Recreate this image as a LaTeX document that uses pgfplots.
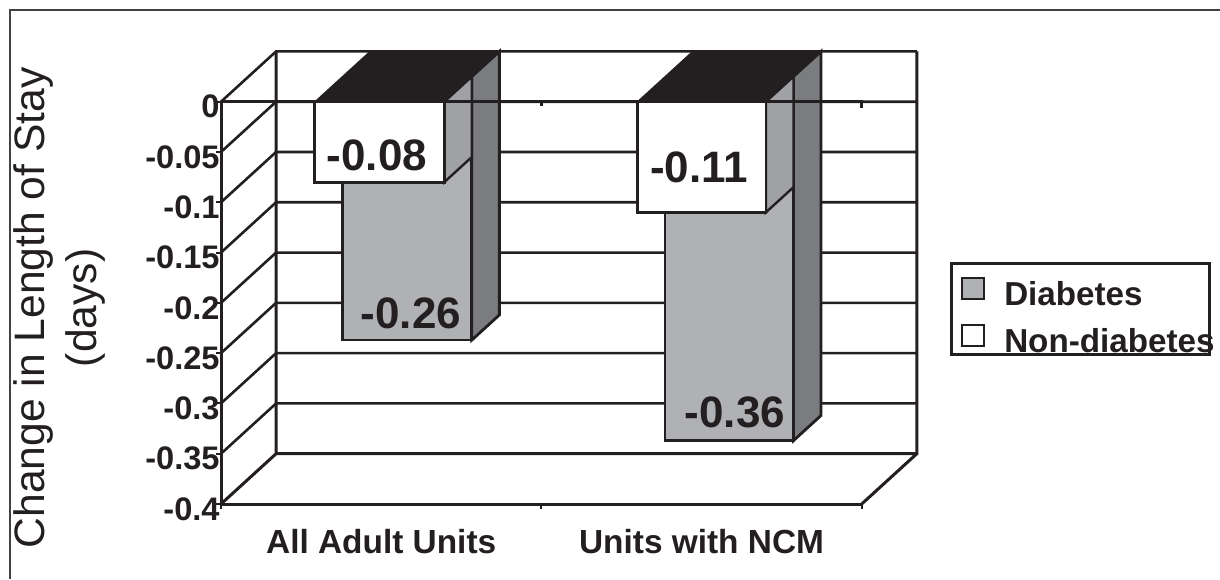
\documentclass[border=0pt]{standalone}
\usepackage{fontspec}
\setmainfont{Liberation Sans}
\usepackage{pgfplots}
\pgfplotsset{compat=1.18}
\definecolor{ink}{HTML}{231F20}
\definecolor{barface}{HTML}{B0B1B5}
\definecolor{sidelight}{HTML}{A0A1A5}
\definecolor{sidedark}{HTML}{7B7C80}

\begin{document}
\begin{tikzpicture}
% page is 1220x579 px at 2 px/pt
\useasboundingbox (0,0) rectangle (610pt,289.5pt);
\begin{axis}[
    at={(110.5pt,37.5pt)}, anchor=south west,
    scale only axis, width=320.35pt, height=201.15pt,
    xmin=0, xmax=2, ymin=-0.4, ymax=0,
    clip=false,
    unbounded coords=jump,
    axis x line*=bottom, axis y line*=left,
    axis line style={ink, line width=1.5pt},
    tick align=outside,
    tick style={ink, line width=1pt},
    major tick length=2.5pt, minor tick length=2.5pt,
    xtick={0.5,1.5},
    xticklabels={All Adult Units,Units with NCM},
    major x tick style={draw=none},
    minor xtick={0,1,2},
    ytick={-0.4,-0.35,-0.3,-0.25,-0.2,-0.15,-0.1,-0.05,0},
    yticklabels={-0.4,-0.35,-0.3,-0.25,-0.2,-0.15,-0.1,-0.05,0},
    xticklabel style={font=\fontsize{16.7}{18}\selectfont\bfseries, text=ink, inner sep=0pt,
        text height=12pt, text depth=0pt, anchor=north, yshift=-10pt},
    yticklabel style={font=\fontsize{16.3}{18}\selectfont\bfseries, text=ink, inner sep=0pt,
        anchor=east, xshift=2pt, yshift=-2.5pt},
    ylabel={Change in Length of Stay\\(days)},
    ylabel style={at={(axis cs:-0.504,-0.205)}, anchor=center, rotate=0, align=center,
        font=\fontsize{21.3}{26}\selectfont, text=ink},
    legend style={at={(axis cs:2.2755,-0.1593)}, anchor=north west, draw=ink, line width=1.5pt,
        fill=white, inner xsep=4.8pt, inner ysep=1.35pt, row sep=4pt, column sep=9.5pt,
        cells={anchor=base west},
        nodes={font=\fontsize{16.6}{18}\selectfont\bfseries, text=ink, inner sep=0pt,
            text height=19.5pt, text depth=0pt}},
    legend cell align=left,
    legend image code/.code={\draw[#1, line width=1.1pt] (0pt,-6.5pt) rectangle (11pt,4pt);},
]

% outer frame, left and top only
\addplot[forget plot, ink!85, line width=1pt] coordinates {(-0.66,-0.4745) (-0.66,0.0912) (3.12,0.0912)};

% back wall gridlines with their diagonals on the side wall
\addplot[forget plot, ink, line width=1.3pt] coordinates {
    (0,0) (0.172,0.05) (2.172,0.05) (0,nan)
    (0,-0.05) (0.172,0) (2.172,0) (0,nan)
    (0,-0.1) (0.172,-0.05) (2.172,-0.05) (0,nan)
    (0,-0.15) (0.172,-0.1) (2.172,-0.1) (0,nan)
    (0,-0.2) (0.172,-0.15) (2.172,-0.15) (0,nan)
    (0,-0.25) (0.172,-0.2) (2.172,-0.2) (0,nan)
    (0,-0.3) (0.172,-0.25) (2.172,-0.25) (0,nan)
    (0,-0.35) (0.172,-0.3) (2.172,-0.3)
};
% back wall uprights and floor
\addplot[forget plot, ink, line width=1.5pt] coordinates {
    (0.172,0.05) (0.172,-0.35) (2.172,-0.35) (2.172,0.05) (0,nan)
    (0,-0.4) (0.172,-0.35) (0,nan)
    (2,-0.4) (2.172,-0.35)
};

% All Adult Units: diabetes -0.26 (set half a depth back)
\addplot[forget plot, fill=barface, draw=ink, line width=1.4pt] coordinates {(0.379,0.023) (0.783,0.023) (0.783,-0.237) (0.379,-0.237)} -- cycle;
\addplot[forget plot, fill=sidedark, draw=ink, line width=1.4pt] coordinates {(0.783,0.025) (0.869,0.05) (0.869,-0.212) (0.783,-0.237)} -- cycle;
% All Adult Units: non-diabetes -0.08
\addplot[forget plot, fill=sidelight, draw=ink, line width=1.2pt] coordinates {(0.697,0) (0.783,0.025) (0.783,-0.055) (0.697,-0.08)} -- cycle;
\addplot[forget plot, fill=white, draw=ink, line width=1.4pt] coordinates {(0.293,0) (0.697,0) (0.697,-0.08) (0.293,-0.08)} -- cycle;
\addplot[forget plot, fill=ink, draw=ink, line width=0.5pt] coordinates {(0.293,0) (0.465,0.05) (0.869,0.05) (0.697,0)} -- cycle;

% Units with NCM: diabetes -0.36
\addplot[forget plot, fill=barface, draw=ink, line width=1.4pt] coordinates {(1.386,0.023) (1.787,0.023) (1.787,-0.337) (1.386,-0.337)} -- cycle;
\addplot[forget plot, fill=sidedark, draw=ink, line width=1.4pt] coordinates {(1.787,0.025) (1.873,0.05) (1.873,-0.312) (1.787,-0.337)} -- cycle;
% Units with NCM: non-diabetes -0.11
\addplot[forget plot, fill=sidelight, draw=ink, line width=1.2pt] coordinates {(1.701,0) (1.787,0.025) (1.787,-0.085) (1.701,-0.11)} -- cycle;
\addplot[forget plot, fill=white, draw=ink, line width=1.4pt] coordinates {(1.3,0) (1.701,0) (1.701,-0.11) (1.3,-0.11)} -- cycle;
\addplot[forget plot, fill=ink, draw=ink, line width=0.5pt] coordinates {(1.3,0) (1.472,0.05) (1.873,0.05) (1.701,0)} -- cycle;

% category axis at zero runs over the bars
\addplot[forget plot, ink, line width=1.4pt] coordinates {(0,0) (2,0) (2,-0.006) (0,nan) (1,0) (1,-0.004)};

% value labels
\node[font=\fontsize{22}{24}\selectfont\bfseries, text=ink] at (axis cs:0.487,-0.053) {-0.08};
\node[font=\fontsize{22}{24}\selectfont\bfseries, text=ink] at (axis cs:1.492,-0.065) {-0.11};
\node[font=\fontsize{22}{24}\selectfont\bfseries, text=ink] at (axis cs:0.593,-0.21) {-0.26};
\node[font=\fontsize{22}{24}\selectfont\bfseries, text=ink] at (axis cs:1.6045,-0.3085) {-0.36};

\addlegendimage{fill=barface, draw=ink}
\addlegendentry{\makebox[98pt][l]{Diabetes}}
\addlegendimage{fill=white, draw=ink}
\addlegendentry{\makebox[98pt][l]{Non-diabetes}}
\end{axis}
\end{tikzpicture}
\end{document}
